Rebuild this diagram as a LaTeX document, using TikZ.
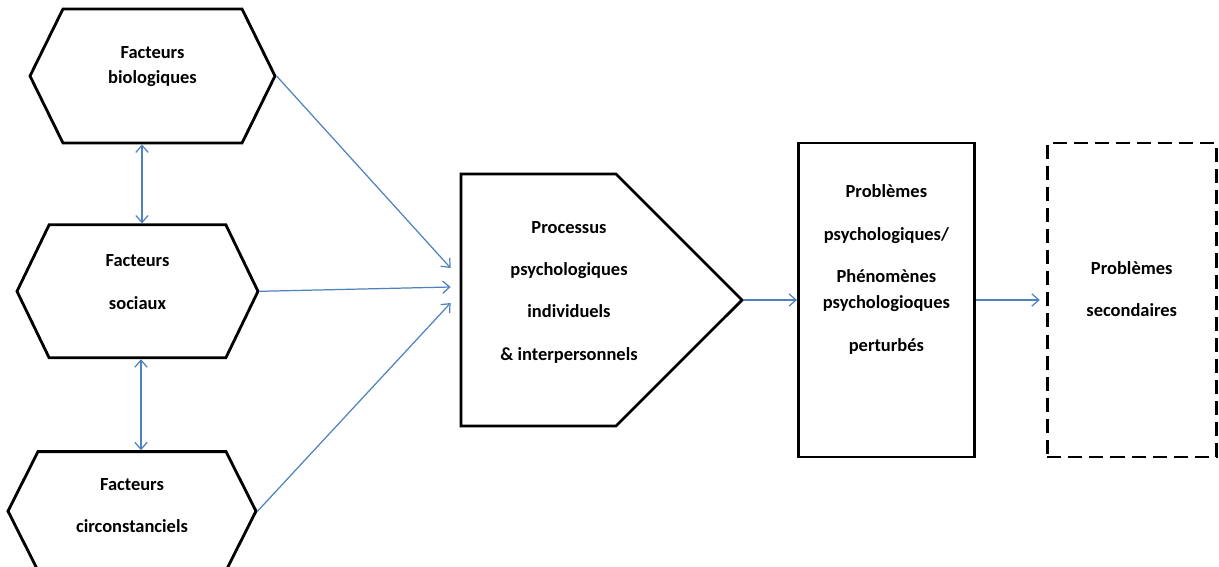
\documentclass[tikz,border=0pt]{standalone}
\usepackage{fontspec}
\setmainfont{Carlito}
\usetikzlibrary{positioning,shapes.symbols,arrows.meta}
\definecolor{linkblue}{RGB}{79,129,189}
\tikzset{
  factor/.style    = {shape=signal, signal to=west and east, draw,
                      line width=1.6pt, inner sep=0pt},
  process/.style   = {shape=signal, signal to=east, signal pointer angle=90,
                      draw, line width=1.6pt, inner sep=0pt,
                      minimum width=5.62cm, minimum height=5.04cm},
  problem/.style   = {rectangle, draw, line width=1.6pt,
                      minimum width=3.52cm, minimum height=6.28cm},
  secondary/.style = {rectangle, draw, line width=1.6pt,
                      dash pattern=on 8pt off 4pt,
                      minimum width=3.38cm, minimum height=6.28cm},
  txt/.style       = {align=center, inner sep=0pt,
                      font=\fontsize{10.5}{14.7}\selectfont\bfseries},
  link/.style      = {draw=linkblue, line width=0.7pt,
                      -{Straight Barb[length=4pt,width=7pt]}},
  twoway/.style    = {link, {Straight Barb[length=4pt,width=7pt]}-{Straight Barb[length=4pt,width=7pt]}}
}

\begin{document}
\begin{tikzpicture}
  \useasboundingbox (0,0) rectangle (24.38,-11.34);
  % factors on the left
  \node [factor, minimum width=4.9cm, minimum height=2.68cm,
         signal pointer angle=127.6] (bio) at (3.05,-1.52) {};
  \node [factor, minimum width=4.82cm, minimum height=2.66cm,
         signal pointer angle=128.4] (soc) [below=1.58cm of bio, xshift=-0.3cm] {};
  \node [factor, minimum width=4.96cm, minimum height=2.38cm,
         signal pointer angle=126.5] (circ) [below=1.82cm of soc, xshift=-0.11cm] {};
  % process and problems
  \node [process] (proc) at (10.77,-6.0) {};
  \node [problem] (prob) [right=1.06cm of proc] {};
  \node [secondary] (sec) [right=1.4cm of prob] {};
  % texts
  \node [txt] (bio-t) at ([yshift=0.19cm]bio.center) {Facteurs\\biologiques};
  \node [txt] (soc-t) at ([yshift=0.18cm]soc.center) {Facteurs\\[9.6pt]sociaux};
  \node [txt] (circ-t) at ([yshift=0.11cm]circ.center) {Facteurs\\[9.6pt]circonstanciels};
  \node [txt] (proc-t) at ([xshift=0.61cm,yshift=0.16cm]proc.center)
        {Processus\\[9.4pt]psychologiques\\[9.4pt]individuels\\[9.4pt]\& interpersonnels};
  \node [txt] (prob-t) at ([yshift=0.61cm]prob.center)
        {Problèmes\\[9.6pt]psychologiques/\\[9.4pt]Phénomènes\\psychologioques\\[9.6pt]perturbés};
  \node [txt] (sec-t) at ([yshift=0.22cm]sec.center) {Problèmes\\[9.6pt]secondaires};
  % links
  \coordinate (bs) at ([xshift=-0.21cm]bio.south);
  \coordinate (ss) at ([xshift=0.07cm]soc.south);
  \draw [twoway] (bs) -- (bs |- soc.north);
  \draw [twoway] (ss) -- (ss |- circ.north);
  \draw [link] (bio.east) -- ([xshift=-0.18cm,yshift=0.64cm]proc.west);
  \draw [link] (soc.east) -- ([xshift=-0.18cm,yshift=0.26cm]proc.west);
  \draw [link] (circ.east) -- ([xshift=-0.18cm,yshift=-0.06cm]proc.west);
  \draw [link] (proc.east) -- (prob.west);
  \draw [link] (prob.east) -- ([xshift=-0.12cm]sec.west);
\end{tikzpicture}
\end{document}
